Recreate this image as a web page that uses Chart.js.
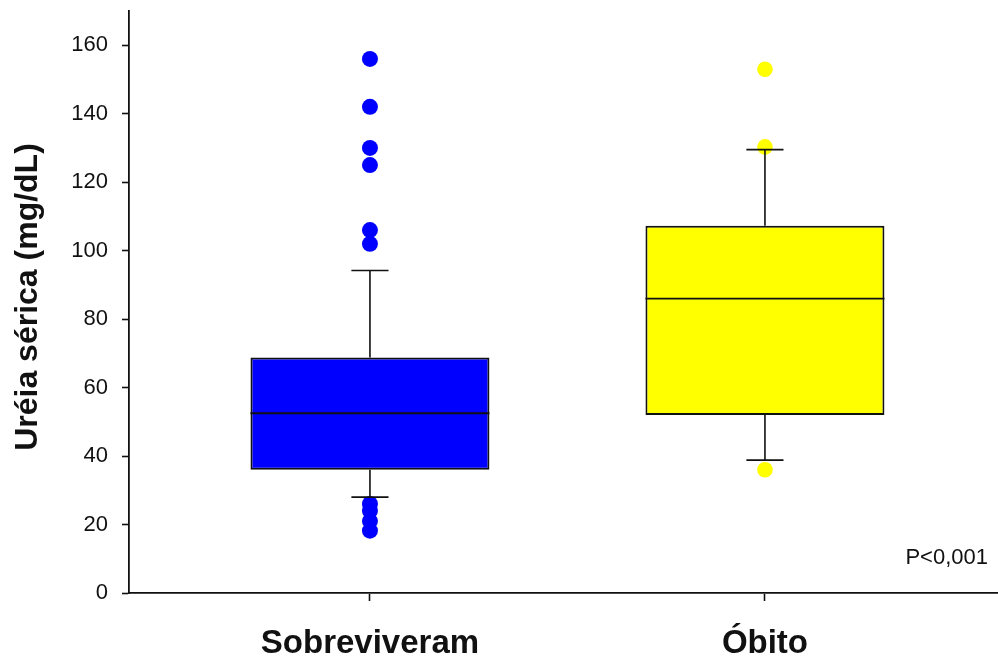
<!DOCTYPE html>
<html>
<head>
<meta charset="utf-8">
<script src="https://cdn.jsdelivr.net/npm/chart.js@4"></script>
<style>
html,body{margin:0;padding:0;background:#fff;}
#wrap{width:998px;height:658px;}
</style>
</head>
<body>
<div id="wrap"><canvas id="c" width="998" height="658"></canvas></div>
<script>
// ---- data ----
const categories = ["Sobreviveram", "Óbito"];
const positions = [1, 2];
const q1 = [36, 52];
const median = [52.5, 86];
const q3 = [68.8, 107.3];
const whiskerLow = [28, 38.8];
const whiskerHigh = [94.2, 129.5];
const outliersSobreviveram = [156, 142, 130, 125, 106, 102, 26, 24, 21, 18.2];
const outliersObito = [153, 130.3, 36];
const yTicks = [0, 20, 40, 60, 80, 100, 120, 140, 160];
const boxColors = ["#0000FF", "#FFFF00"];
const yTitle = "Uréia sérica (mg/dL)";
const pText = "P<0,001";

const FONT = "'Liberation Sans', Arial, Helvetica, sans-serif";

const boxData = positions.map((p, i) => ({ x: p, y: [q1[i], q3[i]] }));
const outBlue = outliersSobreviveram.map(v => ({ x: positions[0], y: v }));
const outYellow = outliersObito.map(v => ({ x: positions[1], y: v }));

function zeroPad(axis) {
  axis.paddingTop = 0; axis.paddingBottom = 0;
  axis.paddingLeft = 0; axis.paddingRight = 0;
}

const whiskerPlugin = {
  id: 'whiskers',
  afterDatasetsDraw(chart) {
    const ctx = chart.ctx;
    const xs = chart.scales.x, ys = chart.scales.y;
    const meta = chart.getDatasetMeta(0);
    ctx.save();
    ctx.strokeStyle = '#111';
    positions.forEach((p, i) => {
      const bar = meta.data[i];
      const half = bar.width / 2;
      const cx = xs.getPixelForValue(p);
      const capHalf = (xs.getPixelForValue(p + 0.047) - cx);
      ctx.lineWidth = 1.8;
      ctx.beginPath();
      const my = ys.getPixelForValue(median[i]);
      ctx.moveTo(cx - half, my); ctx.lineTo(cx + half, my);
      ctx.stroke();
      ctx.lineWidth = 1.6;
      const yq3 = ys.getPixelForValue(q3[i]), yq1 = ys.getPixelForValue(q1[i]);
      const yh = ys.getPixelForValue(whiskerHigh[i]), yl = ys.getPixelForValue(whiskerLow[i]);
      ctx.beginPath();
      ctx.moveTo(cx, yq3); ctx.lineTo(cx, yh);
      ctx.moveTo(cx - capHalf, yh); ctx.lineTo(cx + capHalf, yh);
      ctx.moveTo(cx, yq1); ctx.lineTo(cx, yl);
      ctx.moveTo(cx - capHalf, yl); ctx.lineTo(cx + capHalf, yl);
      ctx.stroke();
    });
    ctx.fillStyle = '#111';
    ctx.font = '22px ' + FONT;
    ctx.textAlign = 'right';
    ctx.textBaseline = 'middle';
    ctx.fillText(pText, chart.chartArea.right - 10, 558);
    // y axis title
    ctx.save();
    ctx.translate(28, 297);
    ctx.rotate(-Math.PI / 2);
    ctx.font = 'bold 32px ' + FONT;
    ctx.textAlign = 'center';
    ctx.textBaseline = 'middle';
    ctx.fillText(yTitle, 0, 0);
    ctx.restore();
    ctx.restore();
  }
};

new Chart(document.getElementById('c'), {
  type: 'bar',
  data: {
    datasets: [
      {
        type: 'bar',
        data: boxData,
        backgroundColor: boxColors,
        borderColor: '#111',
        borderWidth: 2,
        borderSkipped: false,
        categoryPercentage: 1,
        barPercentage: 0.605,
        order: 2
      },
      {
        type: 'scatter',
        data: outBlue,
        backgroundColor: boxColors[0],
        borderWidth: 0,
        pointRadius: 8,
        order: 1
      },
      {
        type: 'scatter',
        data: outYellow,
        backgroundColor: boxColors[1],
        borderWidth: 0,
        pointRadius: 7.8,
        order: 1
      }
    ]
  },
  options: {
    responsive: false,
    animation: false,
    devicePixelRatio: 1,
    layout: { autoPadding: false, padding: { top: 11, right: 0, left: 0, bottom: 0 } },
    plugins: { legend: { display: false }, tooltip: { enabled: false } },
    scales: {
      x: {
        type: 'linear',
        min: 0.39,
        max: 2.59,
        offset: false,
        afterBuildTicks(axis) { axis.ticks = positions.map(v => ({ value: v })); },
        afterFit(axis) { axis.height = 65; zeroPad(axis); },
        grid: { offset: false, drawOnChartArea: false, drawTicks: true, tickLength: 8, tickColor: '#111', tickWidth: 1.6 },
        border: { color: '#111', width: 1.8 },
        ticks: {
          callback(v) { return categories[positions.indexOf(v)]; },
          color: '#111',
          font: { family: FONT, size: 33, weight: 'bold' },
          padding: 23,
          maxRotation: 0,
          autoSkip: false
        }
      },
      y: {
        min: 0,
        max: 170,
        afterBuildTicks(axis) { axis.ticks = yTicks.map(v => ({ value: v })); },
        afterFit(axis) { axis.width = 129; zeroPad(axis); },
        grid: { drawOnChartArea: false, drawTicks: true, tickLength: 7, tickColor: '#111', tickWidth: 1.6 },
        border: { color: '#111', width: 1.8 },
        ticks: {
          color: '#111',
          font: { family: FONT, size: 22 },
          padding: 14
        },
        title: { display: false }
      }
    }
  },
  plugins: [whiskerPlugin]
});
</script>
</body>
</html>
